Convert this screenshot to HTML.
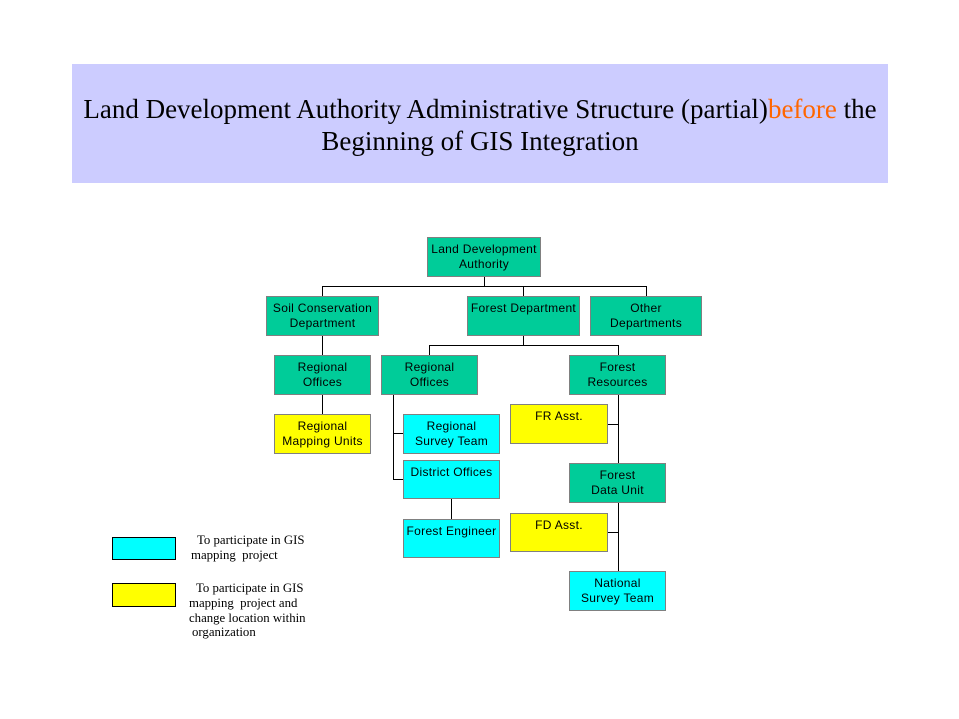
<!DOCTYPE html>
<html>
<head>
<meta charset="utf-8">
<style>
  html, body { margin:0; padding:0; background:#ffffff; }
  body { width:959px; height:719px; position:relative; overflow:hidden; }
  .title {
    position:absolute; left:72px; top:64px; width:816px; height:119px;
    background:#ccccff; box-sizing:border-box; padding-top:29.4px;
    font-family:"Liberation Serif", serif; font-size:27px; line-height:32px;
    text-align:center; color:#000; white-space:nowrap;
  }
  .title .or { color:#ff6600; }
  .b {
    position:absolute; box-sizing:border-box; border:1px solid #808080;
    font-family:"Liberation Sans", sans-serif; font-size:12px; line-height:15px;
    letter-spacing:0.3px; text-align:center; padding-top:3.5px; color:#000;
    white-space:nowrap;
  }
  .g { background:#00cc99; }
  .c { background:#00ffff; }
  .y { background:#ffff00; }
  .lg { position:absolute; box-sizing:border-box; border:1px solid #000; }
  .lt {
    position:absolute; font-family:"Liberation Serif", serif; font-size:12.8px;
    line-height:14px; white-space:pre; color:#000;
  }
  svg { position:absolute; left:0; top:0; }
</style>
</head>
<body>
<div class="title">Land Development Authority Administrative Structure (partial)<span class="or">before</span> the<br>Beginning of GIS Integration</div>

<svg width="959" height="719" viewBox="0 0 959 719">
  <g stroke="#000" stroke-width="1" fill="none" shape-rendering="crispEdges">
    <line x1="484.5" y1="277" x2="484.5" y2="286.5"/>
    <line x1="322" y1="286.5" x2="647" y2="286.5"/>
    <line x1="322.5" y1="286" x2="322.5" y2="296"/>
    <line x1="523.5" y1="286" x2="523.5" y2="296"/>
    <line x1="646.5" y1="286" x2="646.5" y2="296"/>
    <line x1="322.5" y1="336" x2="322.5" y2="355"/>
    <line x1="523.5" y1="336" x2="523.5" y2="345.5"/>
    <line x1="429" y1="345.5" x2="619" y2="345.5"/>
    <line x1="429.5" y1="345" x2="429.5" y2="355"/>
    <line x1="618.5" y1="345" x2="618.5" y2="355"/>
    <line x1="322.5" y1="395" x2="322.5" y2="414"/>
    <line x1="393.5" y1="395" x2="393.5" y2="479.5"/>
    <line x1="393" y1="433.5" x2="403" y2="433.5"/>
    <line x1="393" y1="479.5" x2="403" y2="479.5"/>
    <line x1="451.5" y1="499" x2="451.5" y2="519"/>
    <line x1="618.5" y1="395" x2="618.5" y2="463"/>
    <line x1="608" y1="424.5" x2="618" y2="424.5"/>
    <line x1="618.5" y1="503" x2="618.5" y2="571"/>
    <line x1="608" y1="532.5" x2="618" y2="532.5"/>
  </g>
</svg>

<div class="b g" style="left:427px;top:237px;width:114px;height:40px;">Land Development<br>Authority</div>
<div class="b g" style="left:266px;top:296px;width:113px;height:40px;">Soil Conservation<br>Department</div>
<div class="b g" style="left:467px;top:296px;width:113px;height:40px;">Forest Department</div>
<div class="b g" style="left:590px;top:296px;width:112px;height:40px;">Other<br>Departments</div>

<div class="b g" style="left:274px;top:355px;width:97px;height:40px;">Regional<br>Offices</div>
<div class="b g" style="left:381px;top:355px;width:97px;height:40px;">Regional<br>Offices</div>
<div class="b g" style="left:569px;top:355px;width:97px;height:40px;">Forest<br>Resources</div>

<div class="b y" style="left:274px;top:414px;width:97px;height:40px;">Regional<br>Mapping Units</div>
<div class="b c" style="left:403px;top:414px;width:97px;height:40px;">Regional<br>Survey Team</div>
<div class="b c" style="left:403px;top:460px;width:97px;height:39px;">District Offices</div>
<div class="b c" style="left:403px;top:519px;width:97px;height:39px;">Forest Engineer</div>

<div class="b y" style="left:510px;top:404px;width:98px;height:40px;">FR Asst.</div>
<div class="b g" style="left:569px;top:463px;width:97px;height:40px;">Forest<br>Data Unit</div>
<div class="b y" style="left:510px;top:513px;width:98px;height:39px;">FD Asst.</div>
<div class="b c" style="left:569px;top:571px;width:97px;height:40px;">National<br>Survey Team</div>

<div class="lg c" style="left:112px;top:537px;width:64px;height:23px;"></div>
<div class="lg y" style="left:112px;top:583px;width:64px;height:24px;"></div>

<div class="lt" style="left:197px;top:533px;">To participate in GIS</div>
<div class="lt" style="left:191px;top:548px;">mapping  project</div>
<div class="lt" style="left:196px;top:581px;">To participate in GIS</div>
<div class="lt" style="left:189px;top:596px;">mapping  project and</div>
<div class="lt" style="left:189px;top:611px;">change location within</div>
<div class="lt" style="left:192px;top:625px;">organization</div>
</body>
</html>
